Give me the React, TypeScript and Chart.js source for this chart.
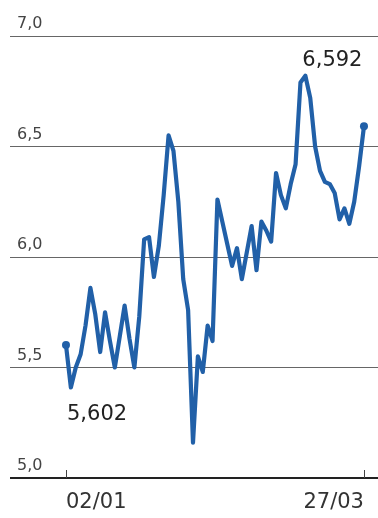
import React, { useEffect, useRef } from "react";
import { Chart, registerables } from "chart.js";

Chart.register(...registerables);

const values: number[] = [
  5.602, 5.41, 5.5, 5.56, 5.69, 5.86, 5.74, 5.57, 5.75, 5.62,
  5.5, 5.64, 5.78, 5.63, 5.5, 5.73, 6.08, 6.09, 5.91, 6.05,
  6.28, 6.55, 6.48, 6.25, 5.9, 5.76, 5.16, 5.55, 5.48, 5.69,
  5.62, 6.26, 6.16, 6.06, 5.96, 6.04, 5.9, 6.02, 6.14, 5.94,
  6.16, 6.12, 6.07, 6.38, 6.28, 6.22, 6.33, 6.42, 6.79, 6.82,
  6.72, 6.5, 6.39, 6.34, 6.33, 6.29, 6.17, 6.22, 6.15, 6.25,
  6.41, 6.592,
];
const tickIndices: number[] = [0, 61];
const tickLabels: string[] = ["02/01", "27/03"];
const yTicks: number[] = [5.0, 5.5, 6.0, 6.5, 7.0];
const startLabel = "5,602";
const endLabel = "6,592";

const FONT = "'DejaVu Sans', sans-serif";

export default function App() {
  const ref = useRef<HTMLCanvasElement | null>(null);
  useEffect(() => {
    document.body.style.margin = "0";
    const canvas = ref.current!;
    const annot = {
      id: "annot",
      afterDatasetsDraw(chart: any) {
        const { ctx, scales } = chart;
        const x = scales.x;
        const y = scales.y;
        ctx.save();
        ctx.strokeStyle = "#444";
        ctx.lineWidth = 1;
        tickIndices.forEach((i) => {
          const px = Math.round(x.getPixelForValue(i)) + 0.5;
          const py = y.getPixelForValue(5);
          ctx.beginPath();
          ctx.moveTo(px, py);
          ctx.lineTo(px, py - 8);
          ctx.stroke();
        });
        ctx.fillStyle = "#222";
        ctx.font = `21px ${FONT}`;
        ctx.textBaseline = "alphabetic";
        ctx.textAlign = "left";
        ctx.fillText(startLabel, x.getPixelForValue(0) + 1, y.getPixelForValue(values[1]) + 33);
        const peak = values.indexOf(Math.max(...values));
        ctx.fillText(endLabel, x.getPixelForValue(peak) - 3, y.getPixelForValue(values[peak]) - 10);
        ctx.restore();
      },
    };
    const chart = new Chart(canvas, {
      type: "line",
      data: {
        datasets: [
          {
            data: values.map((v, i) => ({ x: i, y: v })),
            borderColor: "#2160a8",
            backgroundColor: "#2160a8",
            borderWidth: 4.2,
            tension: 0,
            borderJoinStyle: "round",
            borderCapStyle: "round",
            pointRadius: values.map((_, i) => (i === 0 || i === values.length - 1 ? 4 : 0)),
            pointBackgroundColor: "#2160a8",
            pointBorderWidth: 0,
          },
        ],
      },
      options: {
        responsive: false,
        animation: false,
        layout: { autoPadding: false, padding: { left: 10, right: 0, top: 36, bottom: 0 } },
        plugins: { legend: { display: false }, tooltip: { enabled: false } },
        scales: {
          x: {
            type: "linear",
            min: -11.46,
            max: 63.87,
            afterBuildTicks: (s: any) => {
              s.ticks = tickIndices.map((v) => ({ value: v }));
            },
            afterFit: (s: any) => {
              s.height = 40;
              s.paddingLeft = 0;
              s.paddingRight = 0;
            },
            grid: { display: false, drawTicks: false },
            border: { display: false },
            ticks: {
              align: "inner",
              autoSkip: false,
              maxRotation: 0,
              padding: 12,
              color: "#333",
              font: { family: FONT, size: 21 },
              callback: (v: any) => tickLabels[tickIndices.indexOf(Number(v))],
            },
          },
          y: {
            min: 5,
            max: 7,
            afterBuildTicks: (s: any) => {
              s.ticks = yTicks.map((v) => ({ value: v }));
            },
            afterFit: (s: any) => {
              s.width = 0;
              s.paddingTop = 0;
              s.paddingBottom = 0;
            },
            border: { display: false },
            grid: {
              drawTicks: false,
              color: (c: any) => (c.tick && c.tick.value === 5 ? "#222" : "#666"),
              lineWidth: (c: any) => (c.tick && c.tick.value === 5 ? 2 : 1),
            },
            ticks: {
              mirror: true,
              padding: 7,
              labelOffset: -12,
              color: "#444",
              font: { family: FONT, size: 16 },
              callback: (v: any) => Number(v).toFixed(1).replace(".", ","),
            },
          },
        },
      },
      plugins: [annot],
    });
    return () => chart.destroy();
  }, []);
  return <canvas ref={ref} width={378} height={518} style={{ display: "block", width: 378, height: 518 }} />;
}
